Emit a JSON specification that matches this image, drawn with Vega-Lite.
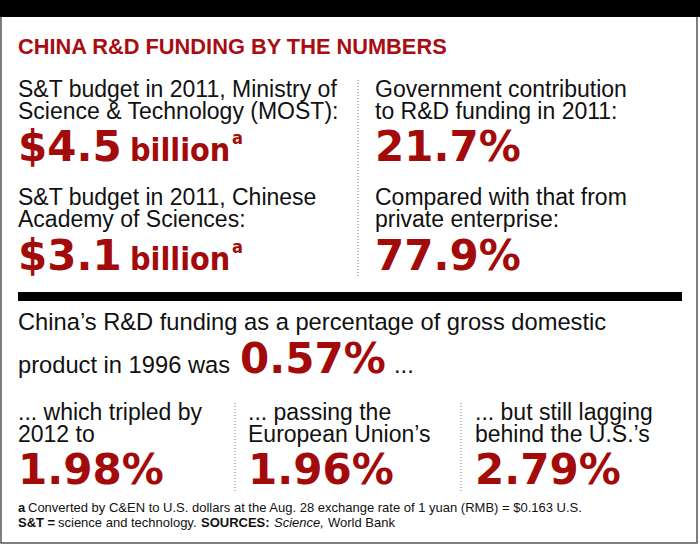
{
  "$schema": "https://vega.github.io/schema/vega-lite/v6.json",
  "width": 700,
  "height": 547,
  "padding": 0,
  "autosize": {"type": "none"},
  "background": "white",
  "config": {"view": {"stroke": null}},
  "datasets": {
    "shapes": [
      {"shape": "topbar", "col": 17, "col2": 18, "row": -2, "row2": -1},
      {"shape": "sectionbar", "col": 0, "col2": 16, "row": 6.5, "row2": 6.6},
      {"shape": "frame", "col": 19, "col2": 20, "row": -2, "row2": 14},
      {"shape": "divider", "col": 13, "row": 0.5, "row2": 6.2},
      {"shape": "divider", "col": 14, "row": 8.5, "row2": 11.2},
      {"shape": "divider", "col": 15, "row": 8.5, "row2": 11.2}
    ],
    "texts": [
      {"kind": "title", "text": "CHINA R&D FUNDING BY THE NUMBERS", "col": 0, "row": 0},
      {"kind": "label", "text": ["S&T budget in 2011, Ministry of", "Science & Technology (MOST):"], "col": 0, "row": 1},
      {"kind": "label", "text": ["S&T budget in 2011, Chinese", "Academy of Sciences:"], "col": 0, "row": 4},
      {"kind": "label", "text": ["Government contribution", "to R&D funding in 2011:"], "col": 1, "row": 1},
      {"kind": "label", "text": ["Compared with that from", "private enterprise:"], "col": 1, "row": 4},
      {"kind": "lead", "text": "China’s R&D funding as a percentage of gross domestic", "col": 0, "row": 7},
      {"kind": "lead", "text": "product in 1996 was", "col": 0, "row": 8},
      {"kind": "lead", "text": "...", "col": 7, "row": 8},
      {"kind": "label", "text": ["... which tripled by", "2012 to"], "col": 0, "row": 9},
      {"kind": "label", "text": ["... passing the", "European Union’s"], "col": 2, "row": 9},
      {"kind": "label", "text": ["... but still lagging", "behind the U.S.’s"], "col": 3, "row": 9},
      {"kind": "figure", "text": "$4.5", "col": 0, "row": 3},
      {"kind": "figure", "text": "$3.1", "col": 0, "row": 6},
      {"kind": "figure", "text": "21.7%", "col": 1, "row": 3},
      {"kind": "figure", "text": "77.9%", "col": 1, "row": 6},
      {"kind": "figure", "text": "0.57%", "col": 6, "row": 8},
      {"kind": "figure", "text": "1.98%", "col": 0, "row": 11},
      {"kind": "figure", "text": "1.96%", "col": 2, "row": 11},
      {"kind": "figure", "text": "2.79%", "col": 3, "row": 11},
      {"kind": "unit", "text": "billion", "col": 4, "row": 3},
      {"kind": "unit", "text": "billion", "col": 4, "row": 6},
      {"kind": "sup", "text": "a", "col": 5, "row": 3},
      {"kind": "sup", "text": "a", "col": 5, "row": 6},
      {"kind": "noteKey", "text": "a", "col": 0, "row": 12},
      {"kind": "note", "text": "Converted by C&EN to U.S. dollars at the Aug. 28 exchange rate of 1 yuan (RMB) = $0.163 U.S.", "col": 8, "row": 12},
      {"kind": "noteKey", "text": "S&T =", "col": 0, "row": 13},
      {"kind": "note", "text": "science and technology.", "col": 9, "row": 13},
      {"kind": "noteKey", "text": "SOURCES:", "col": 10, "row": 13},
      {"kind": "noteTitle", "text": "Science,", "col": 11, "row": 13},
      {"kind": "note", "text": "World Bank", "col": 12, "row": 13}
    ]
  },
  "encoding": {
    "x": {"field": "col", "type": "quantitative", "axis": null,
      "scale": {"nice": false, "zero": false,
        "domain": [0, 1, 2, 3, 4, 5, 6, 7, 8, 9, 10, 11, 12, 13, 14, 15, 16, 17, 18, 19, 20],
        "range": [18, 375, 248, 475, 130, 232, 240, 394, 28, 58, 201, 274, 328, 358, 235, 461, 682, 0, 700, 1, 697]}},
    "y": {"field": "row", "type": "quantitative", "axis": null,
      "scale": {"nice": false, "zero": false,
        "domain": [-2, -1, 0, 0.5, 1, 2, 3, 4, 5, 6, 6.2, 6.5, 6.6, 7, 8, 8.5, 9, 10, 11, 11.2, 12, 13, 14],
        "range": [0, 17, 54, 80, 97, 119, 161, 205, 227, 270, 277, 292, 301, 330, 373, 403, 420, 442, 484, 492, 512, 527, 543]}}
  },
  "layer": [
    {"data": {"name": "shapes"}, "transform": [{"filter": "datum.shape === 'frame'"}],
     "mark": {"type": "rect", "fill": null, "stroke": "#555555", "strokeWidth": 1.5},
     "encoding": {"x2": {"field": "col2"}, "y2": {"field": "row2"}}},
    {"data": {"name": "shapes"}, "transform": [{"filter": "datum.shape === 'topbar' || datum.shape === 'sectionbar'"}],
     "mark": {"type": "rect", "color": "#000000"},
     "encoding": {"x2": {"field": "col2"}, "y2": {"field": "row2"}}},
    {"data": {"name": "shapes"}, "transform": [{"filter": "datum.shape === 'divider'"}],
     "mark": {"type": "rule", "color": "#777777", "strokeWidth": 1, "strokeDash": [1, 2]},
     "encoding": {"y2": {"field": "row2"}}},
    {"data": {"name": "texts"}, "transform": [{"filter": "datum.kind === 'title'"}],
     "mark": {"type": "text", "align": "left", "baseline": "alphabetic", "font": "Liberation Sans", "fontWeight": "bold", "fontSize": 21.8, "color": "#a80d12"},
     "encoding": {"text": {"field": "text", "type": "nominal"}}},
    {"data": {"name": "texts"}, "transform": [{"filter": "datum.kind === 'label'"}],
     "mark": {"type": "text", "align": "left", "baseline": "alphabetic", "lineHeight": 22, "font": "Liberation Sans", "fontSize": 23, "color": "#111111"},
     "encoding": {"text": {"field": "text", "type": "nominal"}}},
    {"data": {"name": "texts"}, "transform": [{"filter": "datum.kind === 'lead'"}],
     "mark": {"type": "text", "align": "left", "baseline": "alphabetic", "font": "Liberation Sans", "fontSize": 23.7, "color": "#111111"},
     "encoding": {"text": {"field": "text", "type": "nominal"}}},
    {"data": {"name": "texts"}, "transform": [{"filter": "datum.kind === 'figure'"}],
     "mark": {"type": "text", "align": "left", "baseline": "alphabetic", "font": "DejaVu Sans", "fontWeight": "bold", "fontSize": 42, "color": "#a30a0a"},
     "encoding": {"text": {"field": "text", "type": "nominal"}}},
    {"data": {"name": "texts"}, "transform": [{"filter": "datum.kind === 'unit'"}],
     "mark": {"type": "text", "align": "left", "baseline": "alphabetic", "font": "DejaVu Sans Condensed", "fontWeight": "bold", "fontSize": 32, "color": "#a30a0a"},
     "encoding": {"text": {"field": "text", "type": "nominal"}}},
    {"data": {"name": "texts"}, "transform": [{"filter": "datum.kind === 'sup'"}],
     "mark": {"type": "text", "align": "left", "baseline": "alphabetic", "dy": -17, "font": "DejaVu Sans Condensed", "fontWeight": "bold", "fontSize": 18, "color": "#a30a0a"},
     "encoding": {"text": {"field": "text", "type": "nominal"}}},
    {"data": {"name": "texts"}, "transform": [{"filter": "datum.kind === 'note'"}],
     "mark": {"type": "text", "align": "left", "baseline": "alphabetic", "font": "Liberation Sans", "fontSize": 13, "color": "#111111"},
     "encoding": {"text": {"field": "text", "type": "nominal"}}},
    {"data": {"name": "texts"}, "transform": [{"filter": "datum.kind === 'noteKey'"}],
     "mark": {"type": "text", "align": "left", "baseline": "alphabetic", "font": "Liberation Sans", "fontWeight": "bold", "fontSize": 13, "color": "#111111"},
     "encoding": {"text": {"field": "text", "type": "nominal"}}},
    {"data": {"name": "texts"}, "transform": [{"filter": "datum.kind === 'noteTitle'"}],
     "mark": {"type": "text", "align": "left", "baseline": "alphabetic", "font": "Liberation Sans", "fontStyle": "italic", "fontSize": 13, "color": "#111111"},
     "encoding": {"text": {"field": "text", "type": "nominal"}}}
  ]
}
